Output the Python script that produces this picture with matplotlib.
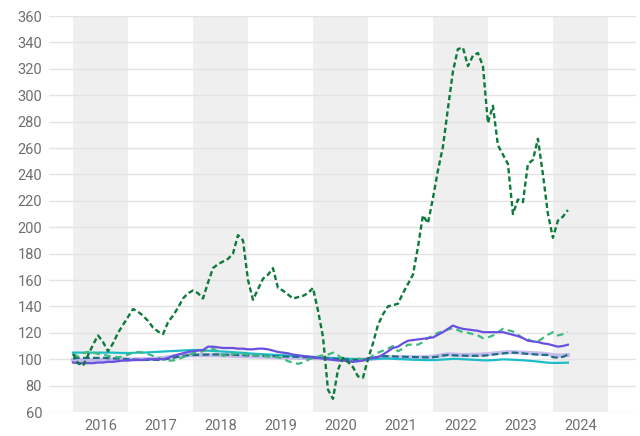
import numpy as np
import matplotlib
matplotlib.use("Agg")
import matplotlib.pyplot as plt

plt.rcParams['font.family'] = ['Roboto', 'DejaVu Sans']

# monthly index values, Jan 2016 .. Apr 2024 (Dec 2020 = 100)
years = [2016, 2017, 2018, 2019, 2020, 2021, 2022, 2023, 2024]

dark_green = [104, 97, 95, 103, 111, 118, 113, 106, 112, 120, 126, 132,
              138, 136, 133, 129, 124, 121, 119, 128, 133, 139, 146, 150,
              152, 150, 146, 158, 169, 172, 174, 176, 180, 194, 190, 160,
              145, 153, 161, 164, 169, 154, 152, 149, 146, 147, 148, 150,
              154, 137, 117, 77, 70, 92, 101, 98, 94, 87, 86, 100,
              112, 126, 134, 140, 141, 142, 150, 157, 164, 185, 209, 203,
              222, 243, 261, 290, 318, 335, 336, 322, 330, 332, 322, 279,
              292, 262, 255, 248, 210, 221, 219, 248, 251, 267, 240, 210,
              192, 205, 208, 213]

mid_green = [104, 102, 104.5, 105.5, 105, 104, 103.5, 102.5, 102, 101.5, 102, 103.5,
             105, 105.5, 105, 104, 102.5, 101, 100, 99, 99, 100, 101.5, 103,
             104.5, 105, 106, 107, 108, 106, 102.5, 103, 104, 104.5, 104, 103.5,
             103, 103, 102.5, 102, 102, 101.5, 100.5, 98.5, 97.5, 96.5, 97.5, 99.5,
             101, 102, 103, 103.5, 105, 103, 100, 98, 99, 100.5, 100, 100,
             103, 105, 106.5, 108, 110, 106, 108, 111, 111, 111, 113, 116,
             118, 120, 121, 122.5, 123.5, 122, 120.5, 120, 119, 118, 116, 116.5,
             118, 120.5, 123, 122, 121, 118.5, 116, 115, 113.5, 113.5, 116, 118.5,
             120.5, 118, 119, 120.5]

purple = [97.5, 97, 97, 97, 97, 97.5, 97.5, 98, 98, 98.5, 99, 99,
          99.5, 99.5, 99.5, 100, 100, 100, 100, 101, 102.5, 103.5, 104.5, 105.5,
          106, 106.5, 107, 109.5, 109.5, 109, 108.5, 108.5, 108.5, 108, 108, 107.5,
          107.5, 108, 108, 107.5, 106.5, 105.5, 105, 104.5, 103.5, 103, 102.5, 102,
          101.5, 101, 100.5, 100, 99.5, 99, 99, 98.5, 98, 98.5, 99, 100.5,
          101, 101.5, 103.5, 106, 108.5, 109.5, 112, 114, 114.5, 115, 115.5, 116,
          116.5, 118.5, 120.5, 123, 125.5, 124, 123, 122.5, 122, 121.5, 120.5, 120.5,
          120.5, 120.5, 120.5, 119.5, 118.5, 117.5, 116, 114, 113.5, 113, 112, 111.5,
          110.5, 109.5, 110, 111]

lavender = [99.5, 99.3, 99.2, 99.2, 99.3, 99.4, 99.5, 99.6, 99.6, 99.7, 99.8, 99.8,
            99.8, 99.9, 100, 100.1, 100.3, 100.6, 101, 101.5, 102, 102.4, 102.7, 102.9,
            103, 103.1, 103.1, 103.1, 103.1, 103, 102.9, 102.8, 102.6, 102.5, 102.4, 102.3,
            102.2, 102, 101.9, 101.8, 101.7, 101.6, 101.5, 101.4, 101.3, 101.2, 101.1, 101,
            100.9, 100.8, 100.6, 100.4, 100.2, 100, 99.8, 99.6, 99.4, 99.4, 99.6, 100,
            100.4, 100.8, 101.2, 101.4, 101.5, 101.5, 101.5, 101.5, 101.5, 101.5, 101.6, 101.8,
            102, 102.5, 103.2, 103.8, 103.6, 103.3, 103.2, 103.2, 103.3, 103.4, 103.6, 103.9,
            104.3, 104.7, 105.1, 105.3, 105.3, 105.2, 105, 104.8, 104.6, 104.4, 104.2, 103.8,
            103.2, 102.8, 102.8, 103.2]

teal_dash = [100.5, 101, 101, 101, 101, 101, 101, 100.8, 100.6, 100.5, 100.3, 100,
             99.8, 99.6, 99.5, 99.5, 99.5, 99.5, 99.7, 100.2, 101, 101.8, 102.5, 103,
             103.2, 103.3, 103.4, 103.5, 103.6, 103.6, 103.5, 103.4, 103.3, 103.2, 103, 102.9,
             102.8, 102.7, 102.5, 102.4, 102.3, 102.2, 102.1, 102, 101.9, 101.8, 101.6, 101.4,
             101.2, 101, 100.8, 100.6, 100.4, 100.2, 100, 99.8, 99.6, 99.6, 99.8, 100,
             101, 101.8, 102.3, 102.3, 102.2, 102, 101.9, 101.8, 101.7, 101.6, 101.5, 101.4,
             101.5, 102, 102.8, 103.2, 103, 102.8, 102.7, 102.6, 102.6, 102.6, 102.7, 103,
             103.5, 104, 104.4, 104.8, 105, 104.8, 104.4, 104, 103.8, 103.5, 103.3, 103.2,
             101.5, 101.2, 101.8, 103.5]

cyan = [105, 105, 105, 105, 105, 105, 105, 105, 105, 104.8, 104.7, 104.7,
        104.8, 105, 105, 105.2, 105.4, 105.6, 105.8, 106, 106.2, 106.4, 106.6, 106.8,
        107, 107, 106.8, 106.5, 106.2, 106, 105.8, 105.6, 105.3, 105, 104.8, 104.5,
        104.2, 104, 103.8, 103.6, 103.4, 103.2, 103, 102.8, 102.6, 102.4, 102.2, 102,
        101.8, 101.5, 101.2, 101, 100.8, 100.6, 100.5, 100.3, 100.2, 100.1, 100, 100,
        100.2, 100.4, 100.5, 100.5, 100.3, 100.1, 100, 99.8, 99.6, 99.5, 99.4, 99.3,
        99.3, 99.5, 99.8, 100, 100.3, 100.2, 100, 99.8, 99.6, 99.4, 99.2, 99.1,
        99.3, 99.6, 99.9, 99.8, 99.6, 99.4, 99.2, 98.9, 98.6, 98.2, 97.8, 97.4,
        97.2, 97.2, 97.3, 97.4]

months = np.arange(len(dark_green))

fig = plt.figure(figsize=(6.4, 4.36), dpi=100)
ax = fig.add_axes([0.0766, 0.055, 0.917, 0.9083])

# shaded bands on every other year (Jan..Dec of the year)
for i, yr in enumerate(years):
    if i % 2 == 0:
        ax.axvspan(12 * i, 12 * i + 11, color='#efefef', zorder=0, lw=0)

ax.set_ylim(60, 360)
ax.set_xlim(-4.8, 112.6)
ax.set_yticks(np.arange(60, 361, 20))
ax.set_xticks([12 * i + 5.5 for i in range(len(years))])
ax.set_xticklabels([str(y) for y in years])
ax.yaxis.grid(True, color='#e3e3e3', lw=1, zorder=1)
ax.set_axisbelow(True)
for s in ax.spines.values():
    s.set_visible(False)
ax.tick_params(length=0, labelsize=10.5, colors='#6f6f6f')
ax.tick_params(axis='y', pad=5)
ax.tick_params(axis='x', pad=5)

ax.plot(months, lavender, color='#a896e6', lw=3, alpha=0.6, zorder=3)
ax.plot(months, cyan, color='#1cbcc8', lw=1.6, zorder=3)
ax.plot(months, teal_dash, color='#1d6f82', lw=1.6, ls=(0, (3, 1.5)), zorder=4)
ax.plot(months, mid_green, color='#3dba7c', lw=1.6, ls=(0, (3, 2)), zorder=4)
ax.plot(months, purple, color='#6a50e0', lw=1.6, zorder=5)
ax.plot(months, dark_green, color='#0b7a3c', lw=1.7, ls=(0, (2.2, 1.3)), zorder=6)

fig.savefig('out.png', dpi=100)
